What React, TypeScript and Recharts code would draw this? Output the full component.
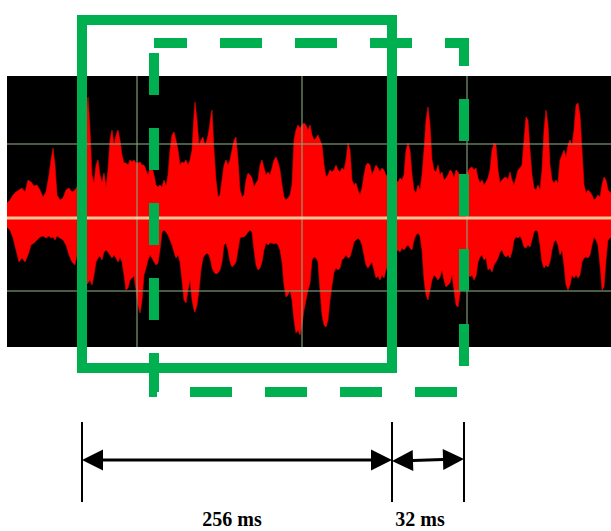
import React from 'react';
import {
  ComposedChart,
  Area,
  XAxis,
  YAxis,
  ReferenceArea,
  ReferenceLine,
  ReferenceDot,
} from 'recharts';

// ---- waveform samples (position, upper envelope, lower envelope) ----
const sampleX = [
  7, 10, 13, 16, 19, 22, 25, 28, 31, 34, 37, 40, 43, 46, 49, 51, 53, 55, 57, 60,
  63, 66, 69, 72, 75, 78, 81, 84, 86, 88, 90, 92, 94, 96, 98, 100, 102, 104, 106, 108,
  110, 112, 114, 116, 118, 120, 122, 124, 126, 128, 130, 132, 134, 136, 138, 140, 142, 144, 146, 148,
  150, 152, 154, 156, 158, 160, 162, 164, 166, 168, 170, 172, 174, 176, 178, 180, 182, 184, 186, 188,
  190, 192, 194, 195, 197, 199, 201, 203, 205, 207, 209, 211, 212, 214, 216, 218, 220, 222, 224, 226,
  228, 230, 232, 234, 236, 238, 240, 242, 244, 246, 248, 250, 252, 254, 256, 258, 260, 262, 264, 266,
  268, 270, 272, 274, 276, 278, 280, 282, 284, 286, 288, 290, 292, 294, 296, 298, 300, 302, 304, 306,
  308, 310, 312, 314, 316, 318, 320, 322, 324, 326, 328, 330, 332, 334, 336, 338, 340, 342, 344, 346,
  348, 350, 352, 354, 356, 358, 360, 362, 364, 366, 368, 370, 372, 374, 376, 378, 380, 382, 384, 386,
  390, 394, 398, 400, 402, 404, 406, 408, 410, 412, 414, 416, 418, 420, 422, 424, 426, 428, 430, 432,
  434, 436, 438, 440, 442, 444, 446, 448, 450, 452, 454, 456, 458, 462, 466, 470, 472, 474, 476, 478,
  480, 482, 484, 486, 488, 490, 492, 494, 496, 498, 500, 502, 504, 506, 508, 510, 512, 514, 516, 518,
  520, 522, 524, 526, 528, 530, 532, 534, 536, 538, 540, 542, 544, 546, 548, 550, 552, 554, 556, 558,
  560, 562, 564, 566, 568, 570, 572, 574, 576, 578, 580, 582, 584, 586, 588, 590, 592, 594, 596, 598,
  600, 602, 604, 606, 608, 611,
];

const upperEnv = [
  15, 18, 23, 26, 28, 30, 26, 38, 36, 32, 33, 28, 21, 26, 43, 58, 70, 53, 23, 18,
  20, 28, 30, 26, 28, 33, 48, 68, 98, 121, 88, 43, 35, 53, 58, 43, 36, 45, 31, 48,
  78, 88, 73, 83, 88, 78, 63, 55, 55, 53, 58, 56, 58, 55, 55, 56, 53, 53, 48, 43,
  50, 51, 43, 33, 31, 33, 31, 38, 32, 43, 68, 83, 86, 78, 68, 53, 56, 55, 58, 53,
  58, 68, 103, 116, 98, 73, 78, 81, 73, 78, 88, 103, 108, 68, 38, 21, 23, 38, 53, 58,
  53, 58, 68, 78, 81, 58, 28, 21, 23, 38, 45, 43, 40, 31, 35, 38, 53, 58, 50, 43,
  46, 43, 50, 58, 61, 56, 48, 33, 21, 18, 20, 23, 33, 78, 88, 93, 90, 93, 95, 93,
  88, 93, 83, 78, 80, 83, 78, 73, 53, 41, 43, 48, 46, 48, 53, 48, 46, 50, 48, 58,
  75, 68, 38, 33, 35, 28, 23, 30, 43, 53, 55, 53, 43, 48, 53, 50, 46, 50, 48, 43,
  40, 38, 36, 40, 38, 43, 68, 75, 68, 43, 28, 25, 33, 28, 43, 68, 98, 111, 93, 58,
  48, 46, 53, 43, 46, 38, 40, 43, 48, 46, 40, 48, 46, 38, 43, 50, 51, 48, 50, 40,
  35, 38, 33, 36, 40, 48, 68, 75, 73, 48, 35, 38, 40, 41, 38, 46, 38, 33, 40, 48,
  50, 53, 78, 101, 98, 68, 43, 30, 28, 33, 28, 48, 88, 108, 93, 53, 38, 35, 38, 35,
  58, 63, 68, 61, 73, 78, 73, 88, 113, 115, 103, 68, 33, 25, 28, 26, 23, 18, 20, 23,
  21, 33, 41, 38, 28, 25,
];

const lowerEnv = [
  -9, -12, -20, -32, -44, -40, -44, -37, -27, -25, -22, -19, -18, -20, -18, -20, -19, -22, -18, -20,
  -22, -27, -37, -44, -47, -32, -42, -57, -67, -65, -62, -67, -57, -44, -40, -38, -42, -34, -32, -34,
  -37, -40, -37, -40, -44, -39, -44, -57, -72, -70, -62, -60, -58, -72, -87, -95, -82, -57, -50, -42,
  -37, -40, -44, -47, -45, -32, -14, -12, -14, -17, -22, -27, -34, -40, -37, -44, -62, -82, -85, -72,
  -62, -82, -92, -94, -87, -72, -52, -40, -37, -35, -37, -44, -50, -54, -56, -55, -52, -44, -27, -25,
  -32, -44, -49, -47, -44, -32, -20, -19, -19, -17, -14, -12, -14, -32, -47, -52, -50, -44, -32, -25,
  -27, -25, -25, -26, -25, -27, -32, -44, -67, -79, -77, -72, -82, -102, -115, -112, -117, -107, -92, -82,
  -72, -65, -42, -39, -40, -44, -72, -97, -107, -109, -102, -82, -67, -54, -50, -52, -50, -42, -40, -37,
  -40, -39, -32, -24, -22, -20, -22, -27, -37, -47, -50, -47, -44, -52, -60, -58, -62, -57, -60, -52,
  -40, -37, -32, -34, -30, -32, -29, -27, -30, -32, -22, -17, -15, -18, -32, -62, -77, -82, -72, -62,
  -57, -59, -62, -59, -52, -62, -69, -67, -65, -57, -72, -87, -89, -62, -52, -59, -57, -62, -58, -44,
  -39, -37, -42, -40, -52, -50, -54, -47, -44, -40, -34, -32, -37, -39, -37, -40, -34, -22, -19, -20,
  -18, -22, -29, -30, -27, -29, -22, -14, -12, -14, -27, -44, -50, -47, -49, -44, -32, -24, -22, -27,
  -37, -32, -47, -67, -72, -67, -57, -60, -57, -60, -57, -44, -40, -39, -40, -37, -27, -19, -22, -27,
  -47, -72, -69, -42, -22, -19,
];

// ---- frame / annotation values (same units as the data) ----
const xDomain = [0, 611];
const ampDomain = [-313, 218];
const screenX = [7, 611];
const screenAmp = [-129, 142];
const gridAmps = [74, -73];
const gridXs = [137, 302, 467];
const window1 = { x1: 82, x2: 392, top: 198, bottom: -150 };
const window2 = { x1: 154, x2: 464, top: 175, bottom: -174 };
const tickXs = [82, 392, 464];
const tickAmpRange = [-204, -284];
const spans = [
  { from: 82, to: 392, ampFrom: -242, ampTo: -242 },
  { from: 392, to: 464, ampFrom: -243, ampTo: -241 },
];
const spanLabels = [
  { x: 232, amp: -308, text: '256 ms' },
  { x: 420, amp: -308, text: '32 ms' },
];

const waveData = sampleX.map((x, i) => ({ x, range: [lowerEnv[i], upperEnv[i]] }));

const GREEN = '#00b050';

const ArrowShape = (props: any) => {
  const { x1, y1, x2, y2 } = props;
  const dx = x2 - x1;
  const dy = y2 - y1;
  const len = Math.sqrt(dx * dx + dy * dy) || 1;
  const ux = dx / len;
  const uy = dy / len;
  const hl = 21;
  const hw = 10.5;
  const nx = -uy;
  const ny = ux;
  const a1 = [x1 + ux * hl, y1 + uy * hl];
  const a2 = [x2 - ux * hl, y2 - uy * hl];
  return (
    <g>
      <line x1={a1[0]} y1={a1[1]} x2={a2[0]} y2={a2[1]} stroke="#000" strokeWidth={3} />
      <polygon
        points={`${x1},${y1} ${a1[0] + nx * hw},${a1[1] + ny * hw} ${a1[0] - nx * hw},${a1[1] - ny * hw}`}
        fill="#000"
      />
      <polygon
        points={`${x2},${y2} ${a2[0] + nx * hw},${a2[1] + ny * hw} ${a2[0] - nx * hw},${a2[1] - ny * hw}`}
        fill="#000"
      />
    </g>
  );
};

export default function App() {
  return (
    <div style={{ position: 'absolute', left: 0, top: 0, width: 611, height: 531, background: '#fff' }}>
      <ComposedChart
        width={611}
        height={531}
        data={waveData}
        margin={{ top: 0, right: 0, bottom: 0, left: 0 }}
      >
        <XAxis type="number" dataKey="x" domain={xDomain} hide allowDataOverflow />
        <YAxis type="number" domain={ampDomain} hide allowDataOverflow />

        <ReferenceArea
          x1={screenX[0]}
          x2={screenX[1]}
          y1={screenAmp[0]}
          y2={screenAmp[1]}
          fill="#000"
          fillOpacity={1}
          stroke="none"
          zIndex={-200}
        />

        <Area
          dataKey="range"
          type="linear"
          fill="#ff0000"
          fillOpacity={1}
          stroke="#e80000"
          strokeWidth={0.6}
          isAnimationActive={false}
          dot={false}
          activeDot={false}
          zIndex={100}
        />

        {gridAmps.map((a) => (
          <ReferenceLine
            key={'h' + a}
            segment={[{ x: screenX[0], y: a }, { x: screenX[1], y: a }]}
            stroke="#86a878"
            strokeOpacity={0.55}
            strokeWidth={2}
            zIndex={150}
          />
        ))}
        {gridXs.map((x) => (
          <ReferenceLine
            key={'v' + x}
            segment={[{ x, y: screenAmp[0] }, { x, y: screenAmp[1] }]}
            stroke="#86a878"
            strokeOpacity={0.55}
            strokeWidth={2}
            zIndex={150}
          />
        ))}
        <ReferenceLine
          segment={[{ x: screenX[0], y: 0 }, { x: screenX[1], y: 0 }]}
          stroke="#f8c498"
          strokeWidth={3}
          zIndex={160}
        />

        <ReferenceArea
          x1={window1.x1}
          x2={window1.x2}
          y1={window1.bottom}
          y2={window1.top}
          fill="none"
          fillOpacity={0}
          stroke={GREEN}
          strokeWidth={10}
          zIndex={300}
        />
        <ReferenceArea
          x1={window2.x1}
          x2={window2.x2}
          y1={window2.bottom}
          y2={window2.top}
          fill="none"
          fillOpacity={0}
          stroke={GREEN}
          strokeWidth={10}
          strokeDasharray="42 33"
          strokeDashoffset={9}
          zIndex={300}
        />

        {tickXs.map((x) => (
          <ReferenceLine
            key={'t' + x}
            segment={[{ x, y: tickAmpRange[0] }, { x, y: tickAmpRange[1] }]}
            stroke="#000"
            strokeWidth={2}
            zIndex={400}
          />
        ))}
        {spans.map((s, i) => (
          <ReferenceLine
            key={'s' + i}
            segment={[{ x: s.from, y: s.ampFrom }, { x: s.to, y: s.ampTo }]}
            stroke="#000"
            shape={ArrowShape}
            zIndex={400}
          />
        ))}
        {spanLabels.map((l) => (
          <ReferenceDot
            key={l.text}
            x={l.x}
            y={l.amp}
            r={0}
            zIndex={500}
            shape={(p: any) => (
              <text
                x={p.cx}
                y={p.cy}
                textAnchor="middle"
                fontFamily="'Liberation Serif', 'Times New Roman', serif"
                fontWeight="bold"
                fontSize={20}
                fill="#000"
              >
                {l.text}
              </text>
            )}
          />
        ))}
      </ComposedChart>
    </div>
  );
}
